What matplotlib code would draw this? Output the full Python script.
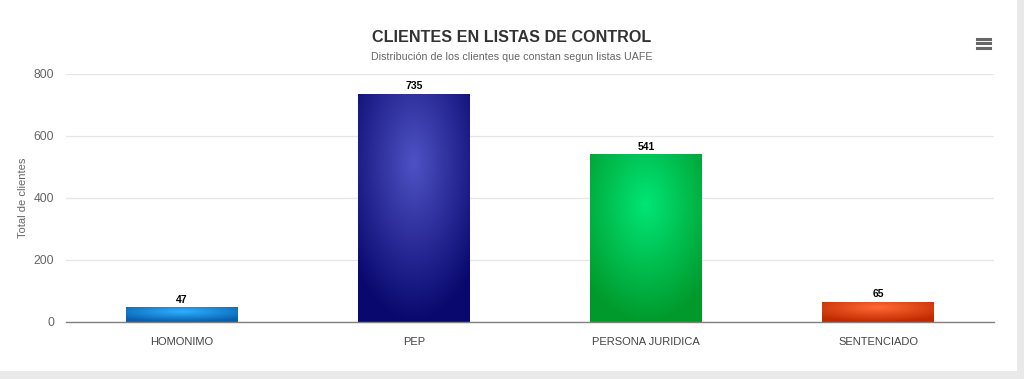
import numpy as np
import matplotlib
matplotlib.use("Agg")
import matplotlib.pyplot as plt
from matplotlib.patches import Rectangle
from matplotlib.colors import to_rgb

categories = ["HOMONIMO", "PEP", "PERSONA JURIDICA", "SENTENCIADO"]
values = [47, 735, 541, 65]
center_colors = ["#2fb0ff", "#4f52c4", "#00e676", "#ff6a35"]
edge_colors = ["#075fae", "#08086e", "#009a2c", "#c02a00"]
yticks = [0, 200, 400, 600, 800]

plt.rcParams['font.family'] = ['Liberation Sans', 'DejaVu Sans']

fig = plt.figure(figsize=(10.24, 3.79), dpi=100)
fig.patch.set_facecolor("#e9e9e9")
# white card
fig.add_artist(Rectangle((0, 1 - 371 / 379), 1017 / 1024, 1, transform=fig.transFigure,
                         facecolor="white", edgecolor="none", zorder=0))

ax = fig.add_axes([66 / 1024, 1 - 322 / 379, (994 - 66) / 1024, (322 - 74) / 379])
ax.set_facecolor("white")
x = np.arange(len(categories))
width = 0.48
bars = ax.bar(x, values, width=width, color="none", edgecolor="none", zorder=3)

for b, c0, c1 in zip(bars, center_colors, edge_colors):
    x0, y0 = b.get_x(), b.get_y()
    w, h = b.get_width(), b.get_height()
    n = 200
    u = np.linspace(0, 1, n)[None, :]
    v = np.linspace(0, 1, n)[:, None]  # v=0 top
    t = np.clip(np.sqrt((u - 0.5) ** 2 + (v - 0.3) ** 2) / 0.7, 0, 1)
    a0 = np.array(to_rgb(c0)); a1 = np.array(to_rgb(c1))
    img = a0[None, None, :] * (1 - t[..., None]) + a1[None, None, :] * t[..., None]
    im = ax.imshow(img, extent=(x0, x0 + w, y0, y0 + h), origin="upper",
                   aspect="auto", zorder=3, interpolation="bilinear")
    im.set_clip_path(b)
    ax.text(b.get_x() + w / 2, h + 9, str(int(h)), ha="center", va="bottom",
            fontsize=7.5, fontweight="bold", color="black", zorder=4)

ax.set_xlim(-0.5, len(categories) - 0.5)
ax.set_ylim(0, 800)
ax.set_yticks(yticks)
ax.set_yticklabels([str(v) for v in yticks], color="#666666", fontsize=8.8)
ax.set_xticks(x)
ax.set_xticklabels(categories, color="#444444", fontsize=8)
ax.tick_params(axis="both", length=0)
ax.tick_params(axis="y", pad=8.5)
ax.tick_params(axis="x", pad=11)
ax.grid(axis="y", color="#e6e6e6", linewidth=0.9, zorder=0)
ax.set_axisbelow(True)
for s in ["top", "right", "left"]:
    ax.spines[s].set_visible(False)
ax.spines["bottom"].set_color("#808080")
ax.spines["bottom"].set_linewidth(1.0)
ax.spines["bottom"].set_zorder(5)

ax.set_ylabel("Total de clientes", color="#666666", fontsize=8)
ax.yaxis.set_label_coords(-38 / 928, 0.5)

fig.text(0.5, 1 - 38 / 379, "CLIENTES EN LISTAS DE CONTROL", ha="center", va="center",
         fontsize=11.6, fontweight="bold", color="#333333")
fig.text(0.5, 1 - 57 / 379, "Distribución de los clientes que constan segun listas UAFE",
         ha="center", va="center", fontsize=7.7, color="#666666")

# menu icon
for yy in (38.5, 43, 47.5):
    fig.add_artist(plt.Line2D([977 / 1024, 990 / 1024], [1 - yy / 379] * 2,
                              transform=fig.transFigure, color="#666666", linewidth=2.2))

fig.savefig("out.png", dpi=100, facecolor=fig.get_facecolor())
